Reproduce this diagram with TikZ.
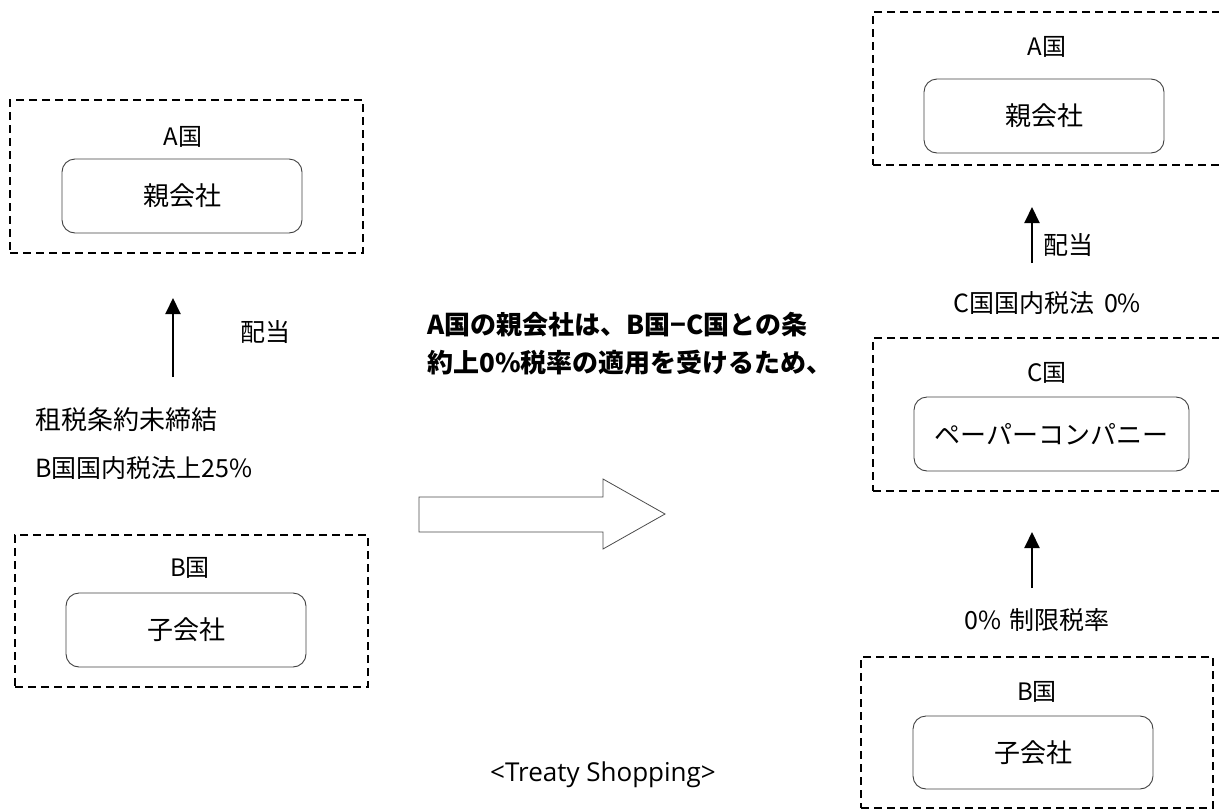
\documentclass[tikz,border=0pt]{standalone}
\usepackage{fontspec}
\setmainfont{Noto Sans CJK JP}
\newfontfamily\latinsans{Open Sans}
\usetikzlibrary{arrows.meta}
\tikzset{
  country/.style={draw=black, line width=1.4pt, dash pattern=on 8pt off 5pt, minimum width=#1, inner sep=0pt},
  company/.style={draw=black!75, line width=0.9pt, rounded corners=13pt, inner sep=0pt, font=\fontsize{26}{30}\selectfont},
  clabel/.style={font=\fontsize{24}{28}\selectfont, inner sep=0pt},
  note/.style={font=\fontsize{25}{29}\selectfont, inner sep=0pt},
  boldnote/.style={font=\fontsize{26}{30}\selectfont\bfseries, anchor=west, inner sep=0pt},
  flow/.style={line width=2pt, -{Triangle[width=15pt,length=16pt]}},
  hollow/.style={draw=black!70, line width=0.8pt, fill=white},
}
\begin{document}
\begin{tikzpicture}[x=1pt,y=-1pt]
\useasboundingbox (0,0) rectangle (1219,809);
\clip (0,0) rectangle (1219,809);
% ---------- left side ----------
\node[country=353pt, minimum height=153pt] (lA) at (186.5,176.5) {};
\node[clabel] (lAl) at (183,137) {A国};
\node[company, minimum width=240pt, minimum height=74pt] (lP) at (182,196) {親会社};
\node[country=353pt, minimum height=152pt] (lB) at (191.5,611) {};
\node[clabel] (lBl) at (190,568) {B国};
\node[company, minimum width=240pt, minimum height=74pt] (lS) at (186,630) {子会社};
\coordinate (la1) at (173,377);
\coordinate (la2) at (173,298);
\draw[flow] (la1) -- (la2);
\node[note] (ldiv) at (265,332) {配当};
\node[note, font=\fontsize{26}{30}\selectfont, anchor=west] (lt1) at (35,420) {租税条約未締結};
\node[note, anchor=west] (lt2) at (35,468) {B国国内税法上25\%};
% ---------- middle ----------
\node[boldnote] (m1) at (427,325) {A国の親会社は、B国−C国との条};
\node[boldnote] (m2) at (427,363) {約上0\%税率の適用を受けるため、};
\draw[hollow] (419,497) -- (603,497) -- (603,479) -- (665,514) -- (603,549) -- (603,532) -- (419,532) -- cycle;
\node[font=\latinsans\fontsize{26}{30}\selectfont, inner sep=0pt] (ts) at (603,775) {<Treaty Shopping>};
% ---------- right side ----------
\node[country=357pt, minimum height=153pt] (rA) at (1051.5,88.5) {};
\node[clabel] (rAl) at (1047,47) {A国};
\node[company, minimum width=240pt, minimum height=74pt] (rP) at (1044,116) {親会社};
\coordinate (ra1) at (1032,263);
\coordinate (ra2) at (1032,207);
\draw[flow] (ra1) -- (ra2);
\node[note, anchor=west] (rdiv) at (1043,245) {配当};
\node[note] (rct) at (1047,303) {C国国内税法\hspace{10pt}0\%};
\node[country=357pt, minimum height=153pt] (rC) at (1051.5,414.5) {};
\node[clabel] (rCl) at (1047,373) {C国};
\node[company, minimum width=275pt, minimum height=74pt] (rPC) at (1051.5,434) {ペーパーコンパニー};
\coordinate (rb1) at (1032,588);
\coordinate (rb2) at (1032,532);
\draw[flow] (rb1) -- (rb2);
\node[note] (rrate) at (1037,620) {0\%\hspace{8pt}制限税率};
\node[country=352pt, minimum height=151pt] (rB) at (1037,732.5) {};
\node[clabel] (rBl) at (1037,692) {B国};
\node[company, minimum width=240pt, minimum height=73pt] (rS) at (1033,752.5) {子会社};
\end{tikzpicture}
\end{document}
